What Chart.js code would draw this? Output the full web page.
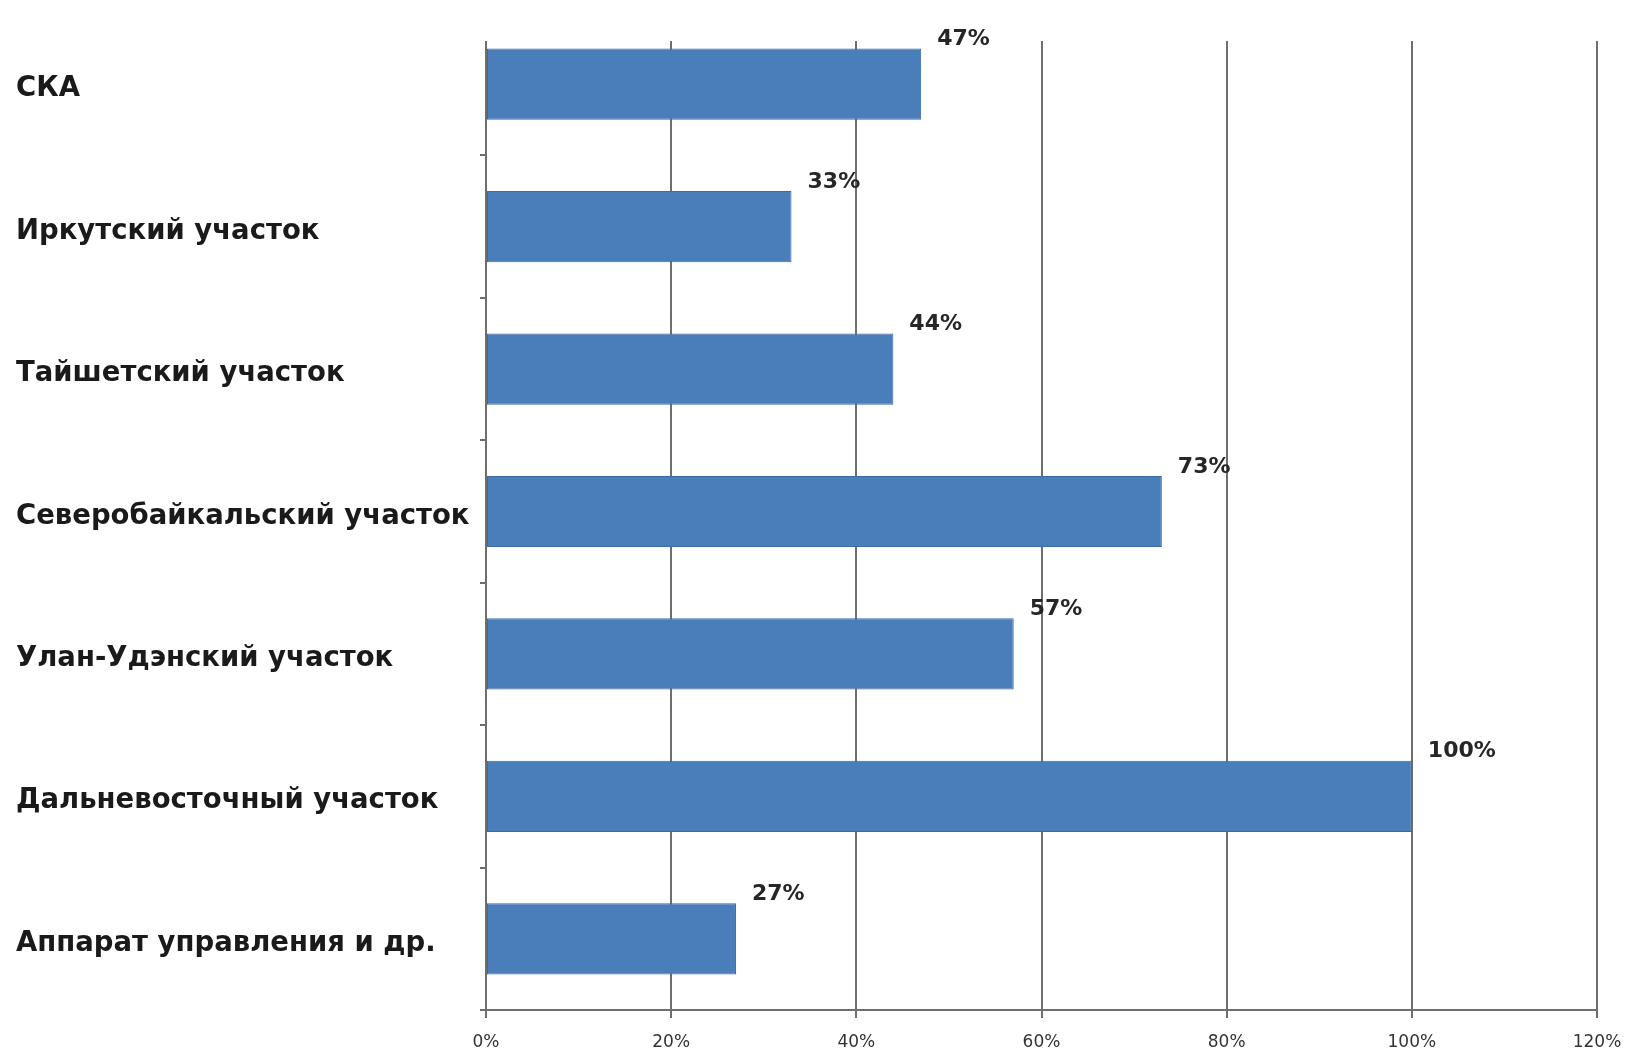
<!DOCTYPE html>
<html>
<head>
<meta charset="utf-8">
<script src="https://cdn.jsdelivr.net/npm/chart.js@4.4.0/dist/chart.umd.min.js"></script>
<style>
    body { margin: 0; background: #fff; }
    canvas { display: block; }
</style>
</head>
<body>
<canvas id="chart" width="1631" height="1052"></canvas>
<script>
const categories = [
    'СКА',
    'Иркутский участок',
    'Тайшетский участок',
    'Северобайкальский участок',
    'Улан-Удэнский участок',
    'Дальневосточный участок',
    'Аппарат управления и др.'
];
const shares = [47, 33, 44, 73, 57, 100, 27];
const xTicks = [0, 20, 40, 60, 80, 100, 120];

// the picture is cut off a little above the first category
const cropTop = 42;

const valueLabels = {
    id: 'valueLabels',
    beforeDatasetsDraw(chart) {
        const ctx = chart.ctx;
        ctx.save();
        ctx.fillStyle = '#fff';
        ctx.fillRect(0, 0, chart.width, cropTop - 1);
        ctx.restore();
    },
    afterDatasetsDraw(chart) {
        const ctx = chart.ctx;
        const meta = chart.getDatasetMeta(0);
        ctx.save();
        ctx.font = 'bold 22px "DejaVu Sans"';
        ctx.fillStyle = '#262626';
        ctx.textAlign = 'left';
        ctx.textBaseline = 'middle';
        meta.data.forEach((bar, i) => {
            const top = bar.y - bar.height / 2;
            ctx.fillText(shares[i] + '%', bar.x + 16, top - 9);
        });
        ctx.restore();
    }
};

new Chart(document.getElementById('chart'), {
    type: 'bar',
    data: {
        labels: categories,
        datasets: [{
            data: shares,
            backgroundColor: '#4a7ebb',
            borderColor: '#3c6aa3',
            borderWidth: 1,
            borderSkipped: false,
            barPercentage: 0.5,
            categoryPercentage: 1
        }]
    },
    options: {
        indexAxis: 'y',
        responsive: false,
        animation: false,
        layout: { padding: { top: 13, left: 16, right: 34, bottom: 0 } },
        plugins: {
            legend: { display: false },
            tooltip: { enabled: false }
        },
        scales: {
            x: {
                min: 0,
                max: 120,
                afterBuildTicks: (scale) => {
                    scale.ticks = xTicks.map(v => ({ value: v }));
                },
                afterFit: (scale) => {
                    scale.height = 42;
                    scale.paddingLeft = 0;
                    scale.paddingRight = 0;
                },
                grid: {
                    color: '#6e6e6e',
                    lineWidth: 2,
                    tickLength: 8,
                    drawTicks: true
                },
                border: { display: true, color: '#6e6e6e', width: 2 },
                ticks: {
                    padding: 14,
                    color: '#333',
                    font: { family: 'DejaVu Sans', size: 17 },
                    callback: (v) => v + '%'
                }
            },
            y: {
                afterFit: (scale) => {
                    scale.width = 470;
                    scale.paddingTop = 0;
                    scale.paddingBottom = 0;
                },
                grid: {
                    offset: true,
                    drawOnChartArea: false,
                    color: '#6e6e6e',
                    lineWidth: 2,
                    tickLength: 6
                },
                border: { display: true, color: '#6e6e6e', width: 2 },
                ticks: {
                    crossAlign: 'far',
                    labelOffset: 5,
                    color: '#1a1a1a',
                    font: { family: 'DejaVu Sans', size: 27.5, weight: 'bold' }
                }
            }
        }
    },
    plugins: [valueLabels]
});
</script>
</body>
</html>
